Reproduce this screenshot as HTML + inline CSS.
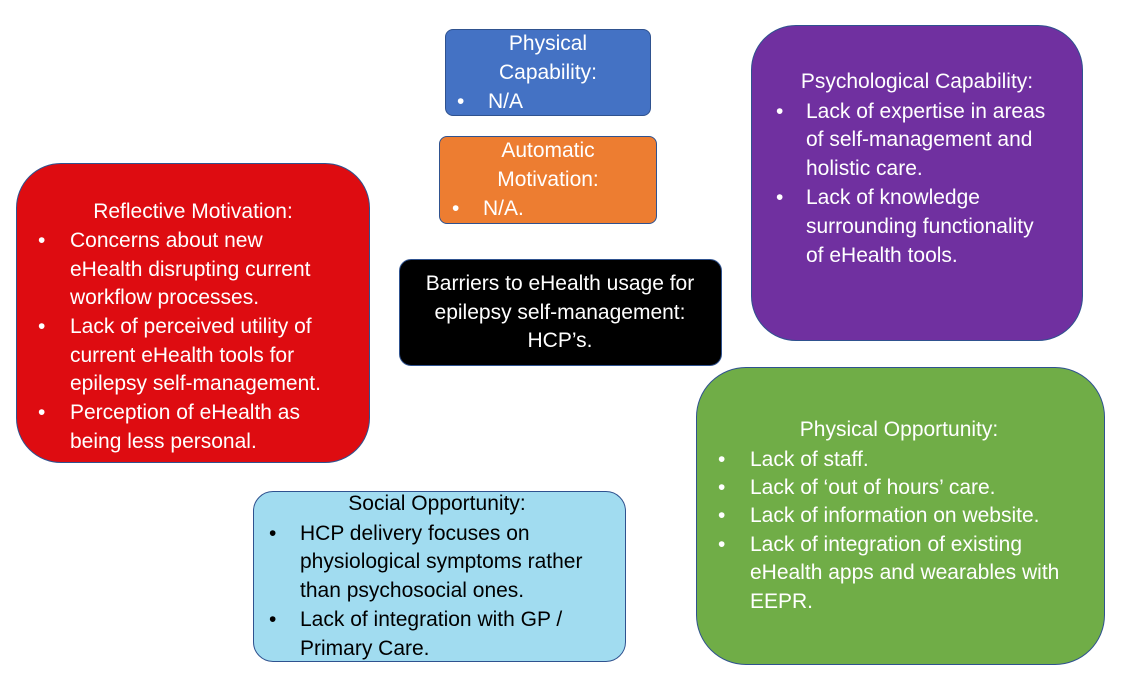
<!DOCTYPE html>
<html><head><meta charset="utf-8"><style>
body{margin:0;width:1126px;height:696px;background:#fff;position:relative;overflow:hidden;font-family:"Liberation Sans",sans-serif;font-size:21px;}
.b{position:absolute;box-sizing:border-box;border:1.5px solid #2F528F;}
.t{position:absolute;white-space:nowrap;line-height:22px;transform:translateY(-11px);}
.w{color:#fff}.k{color:#000}
</style></head><body>
<div class="b" style="left:445px;top:29px;width:206px;height:87px;background:#4472C4;border-radius:8px"></div>
<div class="b" style="left:439px;top:136px;width:218px;height:88px;background:#ED7D31;border-radius:8px"></div>
<div class="b" style="left:751px;top:25px;width:332px;height:316px;background:#7030A0;border-radius:45px"></div>
<div class="b" style="left:16px;top:163px;width:354px;height:300px;background:#DE0C11;border-radius:45px"></div>
<div class="b" style="left:399px;top:259px;width:323px;height:107px;background:#000;border-radius:12px"></div>
<div class="b" style="left:696px;top:367px;width:409px;height:298px;background:#70AD47;border-radius:50px"></div>
<div class="b" style="left:253px;top:491px;width:373px;height:171px;background:#A1DCF0;border-radius:20px"></div>

<div class="t w" style="left:448px;width:200px;text-align:center;top:44px">Physical</div>
<div class="t w" style="left:448px;width:200px;text-align:center;top:73px">Capability:</div>
<div class="t w" style="left:457px;top:102px">•</div><div class="t w" style="left:488px;top:102px">N/A</div>

<div class="t w" style="left:448px;width:200px;text-align:center;top:151px">Automatic</div>
<div class="t w" style="left:448px;width:200px;text-align:center;top:180px">Motivation:</div>
<div class="t w" style="left:452px;top:209px">•</div><div class="t w" style="left:483px;top:209px">N/A.</div>

<div class="t w" style="left:380px;width:360px;text-align:center;top:284px">Barriers to eHealth usage for</div>
<div class="t w" style="left:380px;width:360px;text-align:center;top:313px">epilepsy self-management:</div>
<div class="t w" style="left:380px;width:360px;text-align:center;top:341px">HCP’s.</div>

<div class="t w" style="left:767px;width:300px;text-align:center;top:82px">Psychological Capability:</div>
<div class="t w" style="left:776px;top:112px">•</div><div class="t w" style="left:806px;top:112px">Lack of expertise in areas</div>
<div class="t w" style="left:806px;top:140px">of self-management and</div>
<div class="t w" style="left:806px;top:169px">holistic care.</div>
<div class="t w" style="left:776px;top:198px">•</div><div class="t w" style="left:806px;top:198px">Lack of knowledge</div>
<div class="t w" style="left:806px;top:227px">surrounding functionality</div>
<div class="t w" style="left:806px;top:256px">of eHealth tools.</div>

<div class="t w" style="left:43px;width:300px;text-align:center;top:212px">Reflective Motivation:</div>
<div class="t w" style="left:38px;top:241px">•</div><div class="t w" style="left:70px;top:241px">Concerns about new</div>
<div class="t w" style="left:70px;top:270px">eHealth disrupting current</div>
<div class="t w" style="left:70px;top:298px">workflow processes.</div>
<div class="t w" style="left:38px;top:327px">•</div><div class="t w" style="left:70px;top:327px">Lack of perceived utility of</div>
<div class="t w" style="left:70px;top:356px">current eHealth tools for</div>
<div class="t w" style="left:70px;top:384px">epilepsy self-management.</div>
<div class="t w" style="left:38px;top:413px">•</div><div class="t w" style="left:70px;top:413px">Perception of eHealth as</div>
<div class="t w" style="left:70px;top:442px">being less personal.</div>

<div class="t w" style="left:749px;width:300px;text-align:center;top:430px">Physical Opportunity:</div>
<div class="t w" style="left:718px;top:460px">•</div><div class="t w" style="left:750px;top:460px">Lack of staff.</div>
<div class="t w" style="left:718px;top:488px">•</div><div class="t w" style="left:750px;top:488px">Lack of ‘out of hours’ care.</div>
<div class="t w" style="left:718px;top:516px">•</div><div class="t w" style="left:750px;top:516px">Lack of information on website.</div>
<div class="t w" style="left:718px;top:545px">•</div><div class="t w" style="left:750px;top:545px">Lack of integration of existing</div>
<div class="t w" style="left:750px;top:573px">eHealth apps and wearables with</div>
<div class="t w" style="left:750px;top:602px">EEPR.</div>

<div class="t k" style="left:287px;width:300px;text-align:center;top:504px">Social Opportunity:</div>
<div class="t k" style="left:269px;top:534px">•</div><div class="t k" style="left:300px;top:534px">HCP delivery focuses on</div>
<div class="t k" style="left:300px;top:562px">physiological symptoms rather</div>
<div class="t k" style="left:300px;top:591px">than psychosocial ones.</div>
<div class="t k" style="left:269px;top:620px">•</div><div class="t k" style="left:300px;top:620px">Lack of integration with GP /</div>
<div class="t k" style="left:300px;top:649px">Primary Care.</div>
</body></html>
